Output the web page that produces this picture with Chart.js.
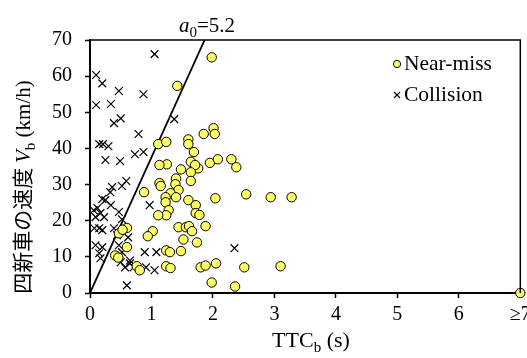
<!DOCTYPE html>
<html><head><meta charset="utf-8">
<script src="https://cdn.jsdelivr.net/npm/chart.js@4.4.0/dist/chart.umd.min.js"></script>
<style>html,body{margin:0;padding:0;background:#fff}#wrap{width:527px;height:358px}</style>
</head><body><div id="wrap"><canvas id="c" width="527" height="358"></canvas></div>
<script>
const xTicks = [0,1,2,3,4,5,6,7];
const xTickLabels = ['0','1','2','3','4','5','6','≥7'];
const yTicks = [0,10,20,30,40,50,60,70];
const seriesNames = ['Near-miss','Collision'];
const nearMissTTC = [1.98,1.42,1.11,1.24,1.60,1.60,1.85,2.01,2.03,1.69,1.64,1.25,1.95,2.08,2.30,2.38,1.76,1.13,1.71,1.48,1.64,1.64,1.40,1.39,1.44,1.31,1.23,1.40,1.23,1.60,1.72,2.04,2.54,2.94,3.28,1.13,1.15,0.88,1.28,1.24,1.11,1.72,1.78,1.88,1.44,1.56,1.61,1.66,1.52,1.74,0.60,0.47,0.53,1.02,0.94,0.60,0.41,0.46,0.76,0.81,1.24,1.30,1.48,1.24,1.31,1.80,1.88,2.05,2.51,3.10,1.98,2.36,7.00];
const nearMissV =   [65.2,57.3,41.2,41.8,42.5,41.2,44.0,45.6,44.0,39.0,36.3,35.6,36.0,37.0,37.0,34.8,34.5,35.4,35.4,34.2,33.4,31.0,31.7,30.1,28.5,27.6,26.5,26.5,25.1,25.7,24.3,26.2,27.3,26.5,26.5,30.4,29.6,27.9,22.9,21.5,21.5,22.1,21.6,18.5,18.2,18.2,18.5,17.1,14.8,14.0,18.0,16.5,17.5,17.1,15.7,12.7,10.4,9.8,7.4,6.3,11.8,11.3,11.6,7.4,6.9,7.1,7.6,8.2,7.1,7.4,2.9,1.8,0.0];
const collisionTTC = [1.05,0.10,0.20,0.47,0.87,0.10,0.34,0.39,0.50,0.79,0.15,0.21,0.30,0.73,0.87,0.25,0.49,1.37,0.59,0.52,0.36,0.33,0.20,0.25,0.34,0.06,0.12,0.17,0.23,0.09,0.47,0.97,0.52,0.07,0.15,0.20,0.39,0.44,0.62,0.09,0.20,0.15,0.17,0.47,0.52,0.47,0.50,0.57,0.65,0.60,0.89,1.08,0.91,1.05,0.71,0.65,2.35];
const collisionV =   [66.1,60.3,58.0,55.9,55.0,52.0,52.3,47.0,48.3,44.0,41.2,41.2,40.6,38.4,39.0,36.8,36.5,48.1,31.0,29.6,29.3,27.9,26.0,25.7,24.3,22.9,23.5,22.1,21.0,21.0,22.4,24.3,20.4,17.9,17.9,17.4,17.9,16.0,15.4,13.2,12.7,11.0,9.6,13.2,11.3,9.9,8.5,7.1,8.2,2.1,11.3,11.3,7.1,6.3,7.1,9.0,12.4];
const boundaryTTC = [0, 1.865];
const boundaryV = [0, 70];
const boundaryLabel = '5.2';

const SERIF = '"Liberation Serif","Times New Roman",serif';
const CJK = '"Noto Sans CJK JP",sans-serif';

function toPts(xs, ys){ return xs.map((x,i)=>({x:x,y:ys[i]})); }

function drawRuns(ctx, runs, x, y, align){
  let total = 0;
  runs.forEach(r=>{ctx.font=r.font; r.w=ctx.measureText(r.t).width; total+=r.w;});
  let cx = align==='center' ? x-total/2 : x;
  runs.forEach(r=>{ctx.font=r.font; ctx.fillText(r.t, cx, y+(r.dy||0)); cx+=r.w;});
}

const decor = {
  id:'decor',
  afterDraw(chart){
    const ctx = chart.ctx, a = chart.chartArea;
    ctx.save();
    ctx.strokeStyle='#000'; ctx.lineWidth=1.5;
    ctx.beginPath(); ctx.moveTo(a.left, a.top); ctx.lineTo(a.right, a.top); ctx.lineTo(a.right, a.bottom); ctx.stroke();
    ctx.fillStyle='#000'; ctx.textBaseline='alphabetic'; ctx.textAlign='left';
    drawRuns(ctx,[{t:'TTC',font:'22px '+SERIF},{t:'b',font:'15px '+SERIF,dy:5},{t:' (s)',font:'22px '+SERIF}], 311, 347, 'center');
    drawRuns(ctx,[{t:'a',font:'italic 21px '+SERIF},{t:'0',font:'15px '+SERIF,dy:5},{t:'='+boundaryLabel,font:'21px '+SERIF}], 179, 32, 'left');
    ctx.save(); ctx.translate(22,187); ctx.rotate(-Math.PI/2);
    drawRuns(ctx,[{t:'四新車の速度 ',font:'21px '+CJK},{t:'V',font:'italic 21px '+SERIF},{t:'b',font:'15px '+SERIF,dy:5},{t:' (km/h)',font:'21px '+SERIF}], 0, 8, 'center');
    ctx.restore();
    const lx=397;
    ctx.beginPath(); ctx.arc(lx,64,3.6,0,Math.PI*2); ctx.fillStyle='#ffff66'; ctx.fill(); ctx.lineWidth=1; ctx.strokeStyle='#000'; ctx.stroke();
    ctx.beginPath(); ctx.moveTo(lx-3,92); ctx.lineTo(lx+3,98); ctx.moveTo(lx+3,92); ctx.lineTo(lx-3,98); ctx.lineWidth=1.2; ctx.stroke();
    ctx.fillStyle='#000'; ctx.font='21.5px '+SERIF; ctx.textBaseline='middle';
    ctx.fillText(seriesNames[0], 404, 64);
    ctx.fillText(seriesNames[1], 404, 95);
    ctx.restore();
  }
};

new Chart(document.getElementById('c'), {
  type:'scatter',
  data:{datasets:[
    {label:seriesNames[0], data:toPts(nearMissTTC,nearMissV), pointStyle:'circle', pointRadius:4.7, pointBackgroundColor:'#ffff66', pointBorderColor:'#000', pointBorderWidth:1, clip:false},
    {label:seriesNames[1], data:toPts(collisionTTC,collisionV), pointStyle:'crossRot', pointRadius:5.5, pointBorderColor:'#000', pointBorderWidth:1.2, clip:false},
    {type:'line', label:'boundary', data:toPts(boundaryTTC,boundaryV), borderColor:'#000', borderWidth:1.8, pointRadius:0, fill:false}
  ]},
  options:{
    responsive:false, animation:false, devicePixelRatio:1,
    layout:{padding:{left:0,top:40,right:1,bottom:0}},
    plugins:{legend:{display:false}, tooltip:{enabled:false}},
    scales:{
      x:{type:'linear', min:0, max:7,
        afterBuildTicks(s){ s.ticks = xTicks.map(v=>({value:v})); },
        afterFit(s){ s.height=65; s.paddingLeft=0; s.paddingRight=0; },
        ticks:{callback:(v)=>xTickLabels[xTicks.indexOf(v)], color:'#000', font:{family:SERIF,size:20}, padding:5, maxRotation:0, autoSkip:false},
        grid:{drawOnChartArea:false, drawTicks:true, tickLength:5, tickColor:'#000', tickWidth:1.5},
        border:{display:true, color:'#000', width:2}
      },
      y:{type:'linear', min:0, max:70,
        afterBuildTicks(s){ s.ticks = yTicks.map(v=>({value:v})); },
        afterFit(s){ s.width=90; },
        ticks:{color:'#000', font:{family:SERIF,size:20}, padding:13},
        grid:{drawOnChartArea:false, drawTicks:true, tickLength:5, tickColor:'#000', tickWidth:1.5},
        border:{display:true, color:'#000', width:2}
      }
    }
  },
  plugins:[decor]
});
</script></body></html>
